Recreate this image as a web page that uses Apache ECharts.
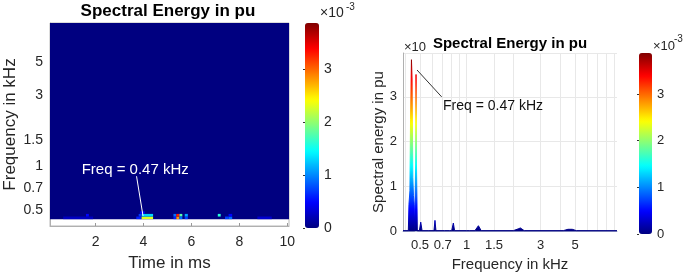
<!DOCTYPE html>
<html><head><meta charset="utf-8">
<script src="https://cdn.jsdelivr.net/npm/echarts@6/dist/echarts.min.js"></script>
<style>html,body{margin:0;padding:0;background:#fff}#c{width:685px;height:277px}</style>
</head><body><div id="c"></div>
<script>
// ---------------- data ----------------
// spectrogram extent (ms, kHz); everything outside the hot cells is 0
const timeRange = [0.1, 10.07];
const freqRange = [0.434, 9.26];
// hot cells of the spectrogram: time start/end (ms), freq low/high (kHz), energy (x1e-3 pu)
const hotT0  = [3.70, 3.92, 3.92, 3.80, 3.85, 5.25, 5.25, 5.37, 5.37, 5.50, 5.50, 5.72, 5.72, 7.10, 7.40, 7.55, 7.55, 8.75, 0.65, 1.60];
const hotT1  = [3.92, 4.40, 4.40, 3.92, 4.05, 5.37, 5.37, 5.50, 5.50, 5.62, 5.62, 5.85, 5.85, 7.22, 7.55, 7.70, 7.70, 9.35, 1.90, 1.72];
const hotF0  = [0.434,0.434,0.452,0.452,0.471,0.434,0.452,0.434,0.452,0.452,0.434,0.434,0.452,0.452,0.434,0.434,0.452,0.434,0.434,0.452];
const hotF1  = [0.452,0.452,0.471,0.471,0.490,0.452,0.471,0.452,0.471,0.471,0.452,0.452,0.471,0.471,0.452,0.452,0.471,0.452,0.452,0.471];
const hotVal = [0.6,  2.3,  1.3,  0.7,  0.5,  0.6,  0.9,  2.8,  3.3,  1.8,  0.9,  0.7,  1.1,  1.6,  0.7,  0.9,  0.5,  0.3,  0.25, 0.5];
const timeTicks = [2, 4, 6, 8, 10];
const freqTicks = [0.5, 0.7, 1, 1.5, 3, 5];
// spectral energy vs frequency (x1e-3 pu)
const specFreq   = [0.388,0.42,0.424,0.430,0.434,0.440,0.444,0.449,0.453,0.458,0.462,0.495,0.505,0.515,0.57,0.574,0.58,0.615,0.624,0.633,0.72,0.73,0.74,0.775,0.78,0.79,0.80,0.82,0.835,1.0,1.02,1.04,1.13,1.19,1.24,2.0,2.15,2.22,2.35,4.2,4.5,4.8,5.1,9.33];
const specEnergy = [0.01, 0.01,0.6,  0.9,  2.5,  3.83, 3.4,  1.2,  0.8,  0.6,  0.02, 0.01, 0.2,  0.01, 0.01,0.05, 0.01,0.01, 0.24, 0.01, 0.01,0.05,0.01,0.01, 0.05,0.01,0.01,0.18,0.01, 0.01,0.03,0.01,0.01,0.12,0.01,0.01,0.05,0.07,0.01,0.01,0.04,0.04,0.01,0.01];
const spec2Freq   = [0.388,0.462,0.468,0.471,0.474,0.48,9.33];
const spec2Energy = [0,    0,    1.5,  3.5,  1.5,  0,   0];
const specTicks = [0.5, 0.7, 1, 1.5, 3, 5];
const specGrid  = [0.4,0.5,0.6,0.7,0.8,0.9,1,1.5,2,3,4,5,6,7,8,9];
const cMax = 3.88;

// --------------- build ---------------
function jet(n){const c=v=>Math.max(0,Math.min(1,v));const h=v=>Math.round(c(v)*255).toString(16).padStart(2,'0');const o=[];for(let i=0;i<n;i++){const x=i/(n-1);o.push('#'+h(1.5-Math.abs(4*x-3))+h(1.5-Math.abs(4*x-2))+h(1.5-Math.abs(4*x-1)));}return o;}
const JET = jet(64);
const FF = 'Liberation Sans, Arial, Helvetica, sans-serif';
const TC = '#262626';

const cells = [[timeRange[0], timeRange[1], freqRange[0], freqRange[1], 0]];
for (let i = 0; i < hotVal.length; i++) cells.push([hotT0[i], hotT1[i], hotF0[i], hotF1[i], hotVal[i]]);
const spec = specFreq.map((f,i)=>[f, specEnergy[i]]);
const spec2 = spec2Freq.map((f,i)=>[f, spec2Energy[i]]);

const chart = echarts.init(document.getElementById('c'), null, {renderer:'canvas'});
chart.setOption({
  animation:false,
  textStyle:{fontFamily:FF},
  grid:[
    {left:50, top:23, width:239, height:204, show:true, borderColor:'#b8b8b8', borderWidth:1, backgroundColor:'transparent'},
    {left:403, top:53, width:214, height:181},
    {left:305, top:23, width:14, height:205},
    {left:639, top:53, width:13, height:181}
  ],
  xAxis:[
    {gridIndex:0, type:'value', min:timeRange[0], max:timeRange[1],
     name:'Time in ms', nameLocation:'middle', nameGap:29, nameTextStyle:{fontSize:17, color:TC, fontFamily:FF},
     axisLine:{lineStyle:{color:'#b0b0b0'}}, axisTick:{inside:true, length:3, customValues:timeTicks, lineStyle:{color:'#999'}},
     axisLabel:{customValues:timeTicks, fontSize:14, color:TC, margin:9, fontFamily:FF}, splitLine:{show:false}},
    {gridIndex:1, type:'log', min:0.388, max:9.33,
     name:'Frequency in kHz', nameLocation:'middle', nameGap:25, nameTextStyle:{fontSize:15, color:TC, fontFamily:FF},
     axisLine:{lineStyle:{color:'#b0b8d0'}}, axisTick:{show:false, customValues:specGrid},
     axisLabel:{customValues:specTicks, fontSize:13, color:TC, margin:8, fontFamily:FF},
     splitLine:{show:true, lineStyle:{color:'#e8e8e8', width:1}}},
    {gridIndex:2, type:'value', min:0, max:1, show:false},
    {gridIndex:3, type:'value', min:0, max:1, show:false}
  ],
  yAxis:[
    {gridIndex:0, type:'log', min:0.39, max:9.26,
     name:'Frequency in kHz', nameLocation:'middle', nameGap:31, nameTextStyle:{fontSize:17, color:TC, fontFamily:FF},
     axisLine:{show:true, lineStyle:{color:'#b0b0b0'}}, axisTick:{inside:true, length:3, customValues:freqTicks, lineStyle:{color:'#999'}},
     axisLabel:{customValues:freqTicks, fontSize:14, color:TC, margin:7, fontFamily:FF}, splitLine:{show:false}},
    {gridIndex:1, type:'value', min:0, max:3.98, interval:1,
     name:'Spectral energy in pu', nameLocation:'middle', nameGap:15, nameTextStyle:{fontSize:15, color:TC, fontFamily:FF},
     axisLine:{show:true, lineStyle:{color:'#b0b0b0'}}, axisTick:{show:false},
     axisLabel:{fontSize:13, color:TC, margin:6, fontFamily:FF, showMaxLabel:false},
     splitLine:{show:true, lineStyle:{color:'#e8e8e8'}}},
    {gridIndex:2, type:'value', position:'right', min:0, max:cMax, interval:1,
     axisLine:{show:false}, axisTick:{show:true, inside:true, length:2, lineStyle:{color:'#333'}},
     axisLabel:{fontSize:14, color:TC, margin:5, fontFamily:FF, showMaxLabel:false}, splitLine:{show:false}},
    {gridIndex:3, type:'value', position:'right', min:0, max:cMax, interval:1,
     axisLine:{show:false}, axisTick:{show:true, inside:true, length:2, lineStyle:{color:'#333'}},
     axisLabel:{fontSize:13, color:TC, margin:5, fontFamily:FF, showMaxLabel:false}, splitLine:{show:false}}
  ],
  visualMap:[
    {type:'continuous', seriesIndex:0, dimension:4, min:0, max:cMax, inRange:{color:JET},
     left:305, top:23, itemWidth:14, itemHeight:205, padding:0, calculable:false, hoverLink:false, text:null},
    {type:'continuous', seriesIndex:[1,2], dimension:1, min:0, max:cMax, inRange:{color:JET},
     left:639, top:53, itemWidth:13, itemHeight:181, padding:0, calculable:false, hoverLink:false, text:null}
  ],
  graphic:[
    {type:'text', style:{text:'Spectral Energy in pu', x:168, y:11, fill:'#000', font:'bold 17px '+FF, align:'center', verticalAlign:'middle'}},
    {type:'text', style:{text:'\u00d710', x:320, y:13, fill:TC, font:'14px '+FF, verticalAlign:'middle'}},
    {type:'text', style:{text:'-3', x:346, y:7, fill:TC, font:'10px '+FF, verticalAlign:'middle'}},
    {type:'text', style:{text:'\u00d710', x:404, y:47, fill:TC, font:'13px '+FF, verticalAlign:'middle'}},
    {type:'text', style:{text:'Spectral Energy in pu', x:510, y:44, fill:'#000', font:'bold 15px '+FF, align:'center', verticalAlign:'middle'}},
    {type:'text', style:{text:'\u00d710', x:653, y:46, fill:TC, font:'13px '+FF, verticalAlign:'middle'}},
    {type:'text', style:{text:'-3', x:674, y:39, fill:TC, font:'10px '+FF, verticalAlign:'middle'}}
  ],
  series:[
    {type:'custom', xAxisIndex:0, yAxisIndex:0, data:cells, encode:{x:[0,1], y:[2,3]},
     renderItem:function(params, api){
       const p0 = api.coord([api.value(0), api.value(3)]);
       const p1 = api.coord([api.value(1), api.value(2)]);
       return {type:'rect', shape:{x:p0[0], y:p0[1], width:p1[0]-p0[0], height:p1[1]-p0[1]}, style:{fill:api.visual('color')}};
     },
     markLine:{silent:true, animation:false, symbol:['none','arrow'], symbolSize:[0,8], label:{show:false},
       lineStyle:{color:'#fff', width:1, type:'solid'},
       data:[[{coord:[3.71, 0.848]},{coord:[3.98, 0.457]}]]},
     markPoint:{silent:true, animation:false, symbol:'circle', symbolSize:0,
       label:{show:true, position:'right', distance:0, formatter:'Freq = 0.47 kHz', color:'#fff', fontSize:15, fontFamily:FF},
       data:[{coord:[1.42, 0.94]}]}
    },
    {type:'line', xAxisIndex:1, yAxisIndex:1, data:spec2, showSymbol:false, symbol:'none',
     lineStyle:{width:1}, areaStyle:{opacity:1}},
    {type:'line', xAxisIndex:1, yAxisIndex:1, data:spec, showSymbol:false, symbol:'none',
     lineStyle:{width:1}, areaStyle:{opacity:1},
     markLine:{silent:true, animation:false, symbol:['none','arrow'], symbolSize:[0,8], label:{show:false},
       lineStyle:{color:'#333', width:1, type:'solid'},
       data:[[{coord:[0.689, 3.0]},{coord:[0.478, 3.6]}]]},
     markPoint:{silent:true, animation:false, symbol:'circle', symbolSize:0,
       label:{show:true, position:'right', distance:0, formatter:'Freq = 0.47 kHz', color:'#111', fontSize:14, fontFamily:FF},
       data:[{coord:[0.703, 2.79]}]}
    }
  ]
});
</script></body></html>
